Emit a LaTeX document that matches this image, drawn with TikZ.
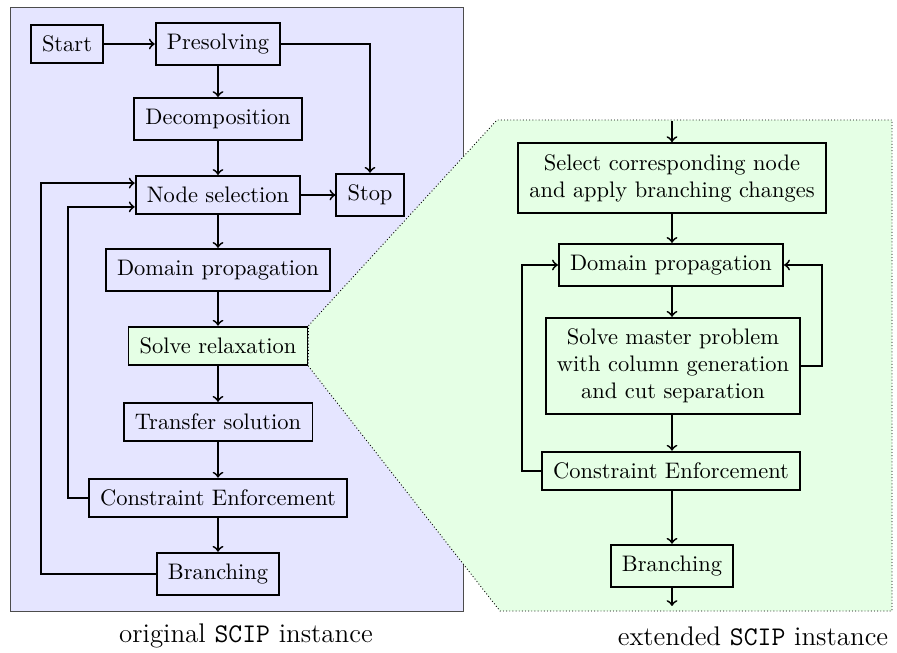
\documentclass[tikz,border=0pt]{standalone}
\usetikzlibrary{backgrounds}
\begin{document}
\begin{tikzpicture}[x=0.4453pt,y=-0.4453pt,
  box/.style={draw,thick,inner sep=5pt,fill=blue!10,align=center},
  gbox/.style={box,fill=green!10},
  arr/.style={->,thick}]
\useasboundingbox (0,0) rectangle (897,653);
% left flow
\node[box] (start) at (67,44) {Start};
\node[box] (pre) at (218,44) {Presolving};
\node[box] (dec) at (218,119) {Decomposition};
\node[box] (ns) at (218,195) {Node selection};
\node[box] (stop) at (370,195) {Stop};
\node[box] (dp) at (218,270) {Domain propagation};
\node[gbox] (sr) at (218,346) {Solve relaxation};
\node[box] (ts) at (218,422) {Transfer solution};
\node[box] (ce) at (218,498) {Constraint Enforcement};
\node[box] (br) at (218,574) {Branching};
\coordinate (lo) at (41,0);
\coordinate (li) at (68,0);
\draw[arr] (start) -- (pre);
\draw[arr] (pre) -- (dec);
\draw[arr] (dec) -- (ns);
\draw[arr] (ns) -- (stop);
\draw[arr] (pre.east) -| (stop.north);
\draw[arr] (ns) -- (dp);
\draw[arr] (dp) -- (sr);
\draw[arr] (sr) -- (ts);
\draw[arr] (ts) -- (ce);
\draw[arr] (ce) -- (br);
\draw[arr] (br.west) -- (br.west -| lo) |- ([yshift=5.3pt]ns.west);
\draw[arr] (ce.west) -- (ce.west -| li) |- ([yshift=-5.3pt]ns.west);
% right flow
\node[gbox] (sel) at (672,178) {Select corresponding node\\and apply branching changes};
\node[gbox] (dp2) at (671,265) {Domain propagation};
\node[gbox] (sm) at (673,366) {Solve master problem\\with column generation\\and cut separation};
\node[gbox] (ce2) at (671,471) {Constraint Enforcement};
\node[gbox] (br2) at (672,566) {Branching};
\coordinate (tin) at (672,121);
\coordinate (bout) at (672,606);
\coordinate (rl) at (822,0);
\coordinate (ll) at (522,0);
\draw[arr] (tin) -- (sel.north -| tin);
\draw[arr] (sel.south -| tin) -- (dp2.north -| tin);
\draw[arr] (dp2.south -| tin) -- (sm.north -| tin);
\draw[arr] (sm.south -| tin) -- (ce2.north -| tin);
\draw[arr] (ce2.south -| tin) -- (br2.north -| tin);
\draw[arr] (br2.south -| tin) -- (bout);
\draw[arr] (sm.east) -- (sm.east -| rl) |- (dp2.east);
\draw[arr] (ce2.west) -- (ce2.west -| ll) |- (dp2.west);
% labels
\node[font=\large] (l1) at (246,636) {original \texttt{SCIP} instance};
\node[font=\large] (l2) at (753,636) {extended \texttt{SCIP} instance};
% backgrounds
\begin{scope}[on background layer]
\filldraw[fill=blue!10,draw=black!70,thin] (10,7) rectangle (463,611);
\filldraw[fill=green!10,draw=black,densely dotted,thin] (sr.north east) -- (497,120) -- (892,120) -- (892,611) -- (500,611) -- (sr.south east) -- cycle;
\end{scope}
\end{tikzpicture}
\end{document}
